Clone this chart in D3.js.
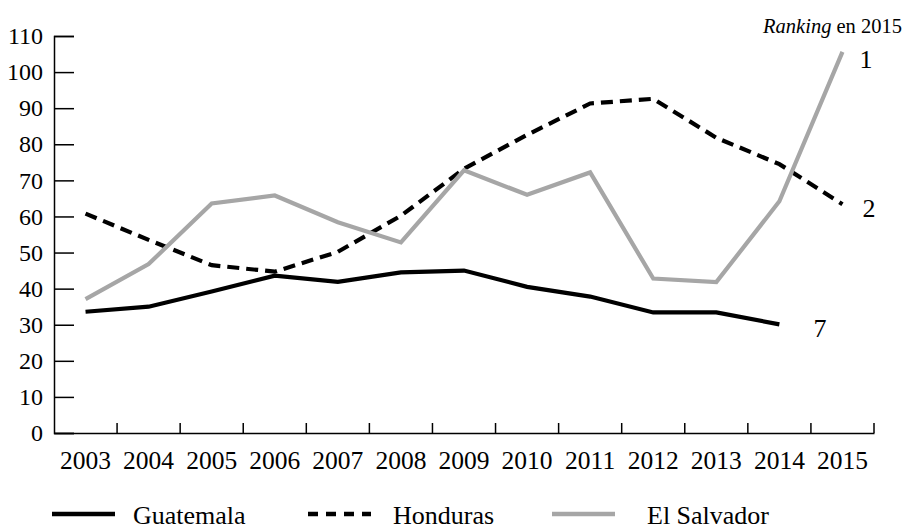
<!DOCTYPE html>
<html>
<head>
<meta charset="utf-8">
<script src="https://cdn.jsdelivr.net/npm/d3@7"></script>
</head>
<body style="margin:0">
<svg id="chart" width="906" height="530" style="font-family:'Liberation Serif'"></svg>
<script>
const years = ["2003","2004","2005","2006","2007","2008","2009","2010","2011","2012","2013","2014","2015"];
const guatemala  = [33.6, 35.0, 39.2, 43.6, 41.9, 44.5, 45.0, 40.5, 37.8, 33.4, 33.4, 30.1];
const honduras   = [60.8, 53.5, 46.5, 44.7, 50.2, 60.2, 73.2, 82.6, 91.3, 92.6, 81.8, 74.5, 63.4];
const elSalvador = [37.1, 46.8, 63.6, 65.8, 58.4, 52.8, 72.8, 66.0, 72.2, 42.8, 41.8, 64.2, 105.6];
const yTicks = [0,10,20,30,40,50,60,70,80,90,100,110];
const seriesNames = ["Guatemala", "Honduras", "El Salvador"];
const rankLabels = ["7", "2", "1"];
const rankTitle = "en 2015";

const FONT = "'Liberation Serif'";
const svg = d3.select("#chart");
const x = d3.scaleBand().domain(years).range([54, 874]).paddingInner(0).paddingOuter(0);
const y = d3.scaleLinear().domain([0, 110]).range([433, 36]);
const cx = d => x(d) + x.bandwidth() / 2;

const styles = [
  { color: "#000", dash: null },
  { color: "#000", dash: "12,7" },
  { color: "#a6a6a6", dash: null }
];
const data = [guatemala, honduras, elSalvador];

// Y axis
const yAxis = svg.append("g").attr("transform", "translate(54,0)")
  .call(d3.axisLeft(y).tickValues(yTicks).tickSize(-20).tickPadding(11));
yAxis.attr("font-family", null).attr("font-size", null);
yAxis.select(".domain").attr("stroke", "#000").attr("stroke-width", 1.5);
yAxis.selectAll(".tick line").attr("stroke", "#000").attr("stroke-width", 1.5);
yAxis.selectAll(".tick text").style("font-family", FONT).style("font-size", "24px").attr("fill", "#000");

// X axis
const xAxis = svg.append("g").attr("transform", "translate(0,433)")
  .call(d3.axisBottom(x).tickSize(0).tickPadding(18).tickSizeOuter(0));
xAxis.attr("font-family", null).attr("font-size", null);
xAxis.select(".domain").attr("stroke", "#000").attr("stroke-width", 1.5);
xAxis.selectAll(".tick text").style("font-family", FONT).style("font-size", "25.5px")
  .attr("fill", "#000").attr("dy", "0.71em");
// boundary ticks (upward)
svg.append("g").selectAll("line").data(years).join("line")
  .attr("x1", d => x(d) + x.bandwidth()).attr("x2", d => x(d) + x.bandwidth())
  .attr("y1", 433).attr("y2", 423)
  .attr("stroke", "#000").attr("stroke-width", 1.5);

// Lines
const line = d3.line().x(d => cx(d.year)).y(d => y(d.v));
data.forEach((vals, i) => {
  const pts = vals.map((v, j) => ({ year: years[j], v }));
  svg.append("path").datum(pts)
    .attr("fill", "none")
    .attr("stroke", styles[i].color)
    .attr("stroke-width", 4.2)
    .attr("stroke-linejoin", "miter")
    .attr("stroke-dasharray", styles[i].dash)
    .attr("d", line);
});

// Rank labels
const labelPos = [
  { x: 820, y: 337 },
  { x: 869, y: 217 },
  { x: 866, y: 68 }
];
rankLabels.forEach((t, i) => {
  svg.append("text").attr("x", labelPos[i].x).attr("y", labelPos[i].y)
    .attr("text-anchor", "middle").style("font-family", FONT).style("font-size", "26px")
    .attr("fill", "#000").text(t);
});
const rt = svg.append("text").attr("x", 902).attr("y", 33).attr("text-anchor", "end")
  .style("font-family", FONT).style("font-size", "20.5px").attr("fill", "#000");
rt.append("tspan").style("font-style", "italic").text("Ranking");
rt.append("tspan").text(" " + rankTitle);

// Legend
const legendX = [{ l: 52, t: 133 }, { l: 308, t: 393 }, { l: 552, t: 647 }];
seriesNames.forEach((name, i) => {
  svg.append("line")
    .attr("x1", legendX[i].l).attr("x2", legendX[i].l + 63)
    .attr("y1", 514).attr("y2", 514)
    .attr("stroke", styles[i].color).attr("stroke-width", 4.5)
    .attr("stroke-dasharray", i === 1 ? "10,8" : null);
  svg.append("text").attr("x", legendX[i].t).attr("y", 524)
    .style("font-family", FONT).style("font-size", "26px").attr("fill", "#000").text(name);
});
</script>
</body>
</html>
